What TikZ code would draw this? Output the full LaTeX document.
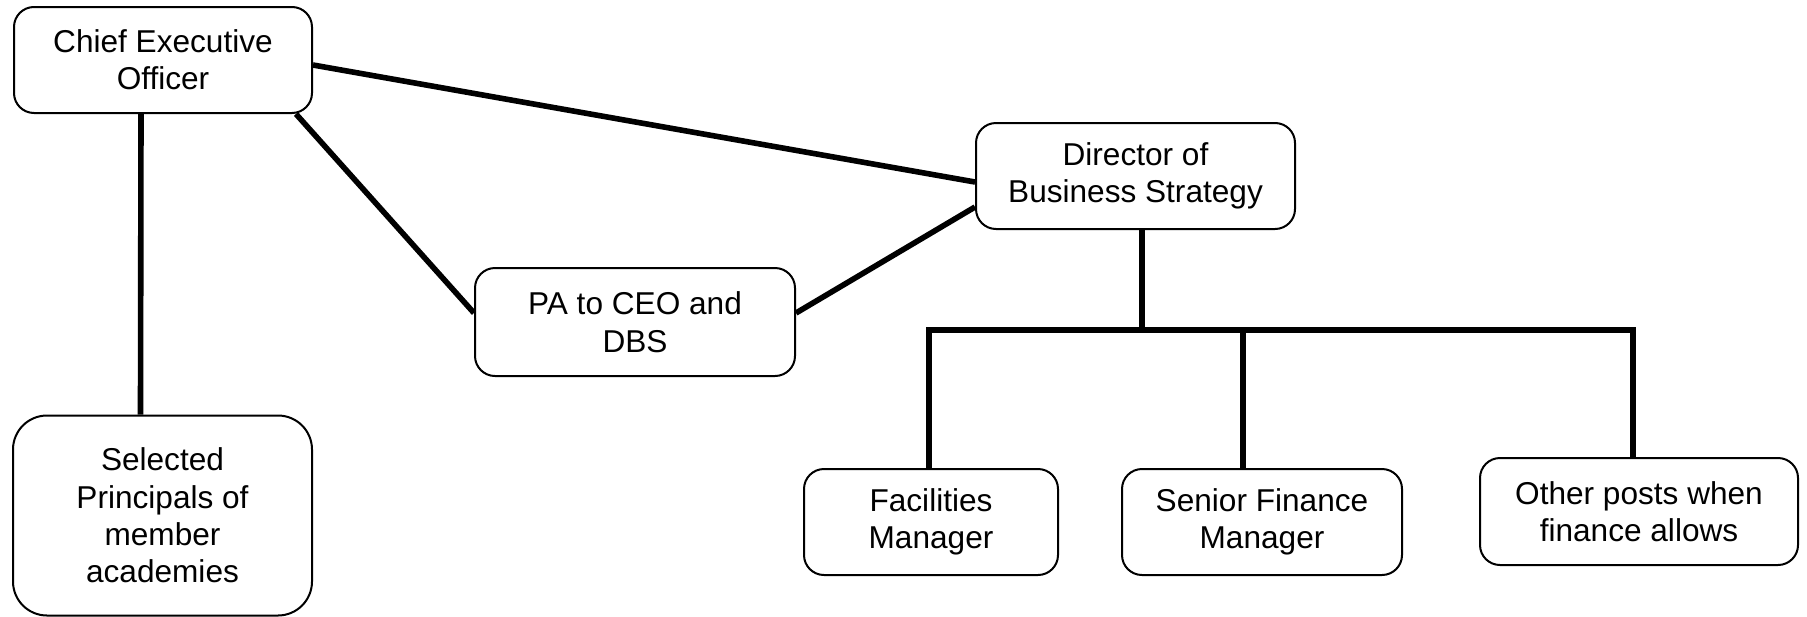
\documentclass[tikz,border=0pt]{standalone}
\usepackage{fontspec}
\setmainfont{Liberation Sans}
\usetikzlibrary{calc}
\begin{document}
\begin{tikzpicture}[x=0.5pt,y=-0.5pt,
  post/.style={draw=black,line width=1pt,rounded corners=10pt,align=center,inner sep=0pt,
    font=\fontsize{15.8pt}{18.7pt}\selectfont},
  link/.style={draw=black,line width=2.8pt}]
\useasboundingbox (0,0) rectangle (1807,616);
\node[post,minimum width=149pt,minimum height=53pt] (ceo) at (163,60) {Chief Executive\\Officer};
\node[post,minimum width=159.5pt,minimum height=53pt] (dbs) at (1135.5,176) {Director of\\Business Strategy};
\node[post,minimum width=160pt,minimum height=54pt] (pa) at (635,322) {PA to CEO and\\DBS};
\node[post,rounded corners=17pt,minimum width=149.5pt,minimum height=100pt] (sp) at (162.5,515.5) {Selected\\Principals of\\member\\academies};
\node[post,minimum width=127pt,minimum height=53pt] (fm) at (931,522) {Facilities\\Manager};
\node[post,minimum width=140pt,minimum height=53pt] (sfm) at (1262,522) {Senior Finance\\Manager};
\node[post,minimum width=159pt,minimum height=53.5pt] (op) at (1639,511.5) {Other posts when\\finance allows};
\coordinate (j) at (1142,330);
\coordinate (bl) at (929,330);
\coordinate (bm) at (1243,330);
\coordinate (br) at (1633,330);
\draw[link] ([yshift=-2.5pt]ceo.east) -- ([yshift=-3pt]dbs.west);
\draw[link] ([xshift=-8.5pt]ceo.south east) -- ([yshift=4.5pt]pa.west);
\draw[link] ([yshift=4.5pt]pa.east) -- ([yshift=-15.5pt]dbs.west);
\draw[link] ([xshift=-11pt]ceo.south) -- ([xshift=-11pt]sp.north);
\draw[link] (dbs.south -| j) -- (j);
\draw[link] ([xshift=-1.4pt]bl) -- ([xshift=1.4pt]br);
\draw[link] (bl) -- (bl |- fm.north);
\draw[link] (bm) -- (bm |- sfm.north);
\draw[link] (br) -- (br |- op.north);
\end{tikzpicture}
\end{document}
